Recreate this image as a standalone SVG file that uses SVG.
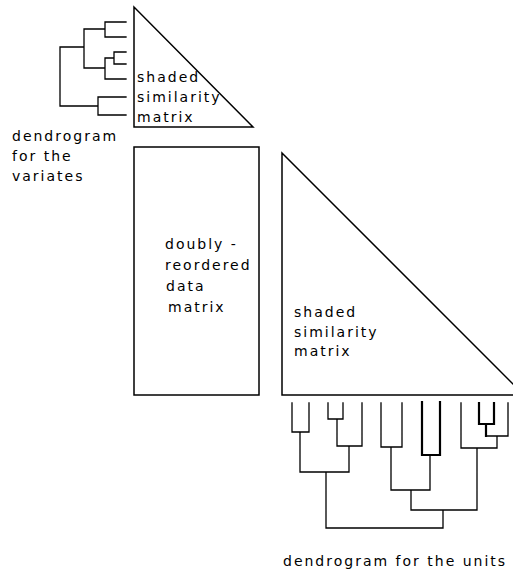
<svg xmlns="http://www.w3.org/2000/svg" width="513" height="569" viewBox="0 0 513 569">
<style>
.ln{fill:none;stroke:#000;stroke-width:1.3;stroke-linecap:square}
.thk{stroke-width:2.2}
.shape{fill:#fff;stroke:#000;stroke-width:1.5}
text{font-family:"DejaVu Sans","Liberation Sans",sans-serif;font-size:14px;letter-spacing:2px;fill:#000}
</style>
<rect width="513" height="569" fill="#fff"/>
<g id="small-triangle">
<path class="shape" d="M134 7 L134 127 L253 127 Z"/>
<text x="137" y="82">shaded</text>
<text x="137" y="102">similarity</text>
<text x="137" y="122">matrix</text>
</g>
<g id="variates-dendrogram">
<path class="ln" d="M126 22 H105 V37 H126 M105 29 H84 M126 52 H114 V64 H126 M114 58 H105 V79 H126 M105 68 H84 M84 29 V68 M84 47 H60 M126 97 H98 V115 H126 M98 106 H60 M60 47 V106"/>
<text x="12" y="141">dendrogram</text>
<text x="12" y="161">for the</text>
<text x="12" y="181">variates</text>
</g>
<g id="data-matrix">
<rect class="shape" x="134" y="147" width="125" height="248"/>
<text x="165" y="249">doubly -</text>
<text x="165" y="270">reordered</text>
<text x="166" y="291">data</text>
<text x="168" y="312">matrix</text>
</g>
<g id="big-triangle">
<path class="shape" d="M282 153 L282 395 L524 395 Z"/>
<text x="294" y="317">shaded</text>
<text x="294" y="337">similarity</text>
<text x="294" y="356">matrix</text>
</g>
<g id="units-dendrogram">
<path class="ln" d="M292 403 V432 H309 V403 M300 432 V472 M328 403 V419 H343 V403 M337 419 V446 H362 V403 M349 446 V472 M300 472 H349 M326 472 V528 M381 403 V447 H402 V403 M391 447 V490 M430 455 V490 M391 490 H430 M411 490 V510 M486 436 H508 V403 M461 403 V448 H497 M497 436 V448 M477 448 V510 M411 510 H477 M443 510 V528 M326 528 H443"/>
<path class="ln thk" d="M422 402 V455 H440 V402 M479 403 V424 H494 V403 M486 424 V436"/>
<text x="283" y="566">dendrogram for the units</text>
</g>
</svg>
